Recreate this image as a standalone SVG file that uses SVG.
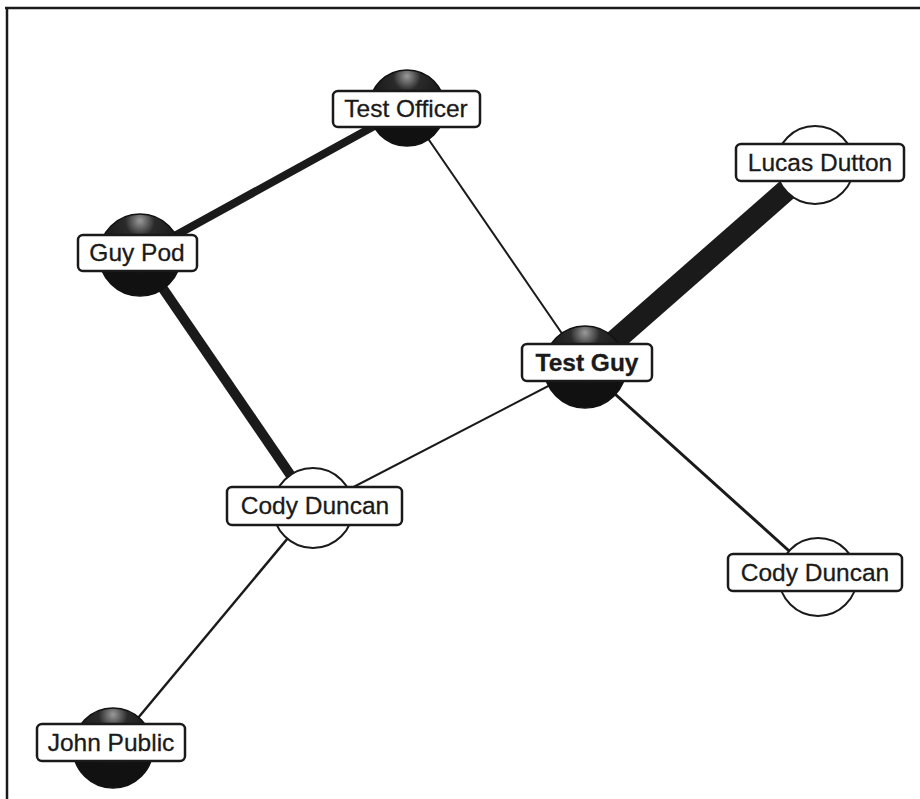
<svg xmlns="http://www.w3.org/2000/svg" width="920" height="799" viewBox="0 0 920 799">
<style>
.frame{stroke:#1a1a1a;stroke-width:2.5;fill:none}
.edge{stroke:#1a1a1a;stroke-linecap:butt;fill:none}
.dark{fill:url(#darkGrad);stroke:#111;stroke-width:1.5}
.light{fill:#fff;stroke:#1a1a1a;stroke-width:2}
.box{fill:#fff;stroke:#1a1a1a;stroke-width:2.5}
.lbl{font-family:"Liberation Sans",Arial,sans-serif;font-size:24.5px;fill:#1a1a1a;stroke:#1a1a1a;stroke-width:0.3;text-anchor:middle}
.bold{font-weight:bold}
</style>
<defs>
<radialGradient id="darkGrad" cx="0.5" cy="0.12" r="0.6" fx="0.5" fy="0.08">
<stop offset="0" stop-color="#9a9a9a"/>
<stop offset="0.3" stop-color="#2a2a2a"/>
<stop offset="1" stop-color="#111"/>
</radialGradient>
</defs>
<rect width="920" height="799" fill="#fff"/>
<path class="frame" d="M5,8 H920 M7,8 V799"/>
<g id="connectors">
<line class="edge" x1="407" y1="108" x2="140" y2="255" stroke-width="8"/>
<line class="edge" x1="407" y1="108" x2="585" y2="367" stroke-width="2"/>
<line class="edge" x1="815" y1="165" x2="585" y2="367" stroke-width="22"/>
<line class="edge" x1="140" y1="255" x2="313" y2="508" stroke-width="10"/>
<line class="edge" x1="585" y1="367" x2="313" y2="508" stroke-width="2"/>
<line class="edge" x1="585" y1="367" x2="818" y2="577" stroke-width="3"/>
<line class="edge" x1="313" y1="508" x2="113" y2="748" stroke-width="2.5"/>
</g>
<g id="node-test-officer">
<circle class="dark" cx="407" cy="108" r="38"/>
<rect class="box" x="333" y="91" width="147" height="36" rx="5"/>
<text class="lbl" x="406" y="117">Test Officer</text>
</g>
<g id="node-lucas-dutton">
<circle class="light" cx="815" cy="165" r="39"/>
<rect class="box" x="736" y="144" width="168" height="37" rx="5"/>
<text class="lbl" x="820" y="171">Lucas Dutton</text>
</g>
<g id="node-guy-pod">
<circle class="dark" cx="140" cy="255" r="41"/>
<rect class="box" x="78" y="235" width="119" height="36" rx="5"/>
<text class="lbl" x="137" y="261">Guy Pod</text>
</g>
<g id="node-test-guy">
<circle class="dark" cx="585" cy="367" r="41"/>
<rect class="box" x="522" y="344" width="130" height="37" rx="5"/>
<text class="lbl bold" x="587" y="371">Test Guy</text>
</g>
<g id="node-cody-duncan-1">
<circle class="light" cx="313" cy="508" r="40"/>
<rect class="box" x="227" y="487" width="175" height="38" rx="5"/>
<text class="lbl" x="315" y="514">Cody Duncan</text>
</g>
<g id="node-cody-duncan-2">
<circle class="light" cx="818" cy="577" r="39"/>
<rect class="box" x="728" y="554" width="174" height="37" rx="5"/>
<text class="lbl" x="815" y="581">Cody Duncan</text>
</g>
<g id="node-john-public">
<circle class="dark" cx="113" cy="748" r="40"/>
<rect class="box" x="37" y="724" width="148" height="37" rx="5"/>
<text class="lbl" x="111" y="751">John Public</text>
</g>
</svg>
